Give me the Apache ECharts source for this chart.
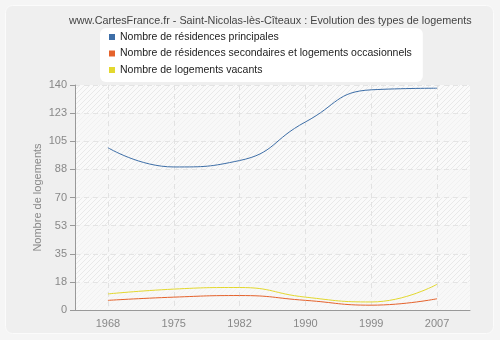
<!DOCTYPE html>
<html><head><meta charset="utf-8">
<script src="https://cdn.jsdelivr.net/npm/echarts@6/dist/echarts.min.js"></script>
<style>html,body{margin:0;padding:0;background:#f5f5f5}#c{width:500px;height:340px}</style>
</head><body><div id="c"></div>
<script>
const years = ['1968','1975','1982','1990','1999','2007'];
const principales = [101, 89, 93, 117, 137, 138];
const secondaires = [6, 8, 9, 6, 3, 7];
const vacants = [10, 13, 14, 8, 5, 16];
const seriesNames = ['Nombre de résidences principales','Nombre de résidences secondaires et logements occasionnels','Nombre de logements vacants'];
const colors = ['#3d6ea7','#e5622b','#e3d82e'];

function hatch(bg, fg){
  const c = document.createElement('canvas'); c.width = 5; c.height = 5;
  const g = c.getContext('2d');
  g.fillStyle = bg; g.fillRect(0,0,5,5);
  g.strokeStyle = fg; g.lineWidth = 1;
  g.beginPath(); g.moveTo(-1,6); g.lineTo(6,-1); g.stroke();
  g.beginPath(); g.moveTo(-1,1); g.lineTo(1,-1); g.stroke();
  g.beginPath(); g.moveTo(4,6); g.lineTo(6,4); g.stroke();
  return {image: c, repeat: 'repeat'};
}
const F = "'Liberation Sans', Arial, sans-serif";
const chart = echarts.init(document.getElementById('c'));
chart.setOption({
  animation: false,
  backgroundColor: '#f5f5f5',
  textStyle: {fontFamily: F},
  graphic: [{type:'rect', shape:{x:5.5,y:5.5,width:488,height:328,r:7}, style:{fill:'#efefef', stroke:'#fbfbfb', lineWidth:1}, z:-10}],
  title: {text: 'www.CartesFrance.fr - Saint-Nicolas-lès-Cîteaux : Evolution des types de logements', left: 64, top: 11,
    textStyle:{fontSize:10.8, fontWeight:'normal', color:'#444', fontFamily:F}},
  legend: {orient:'vertical', left:100, top:28, backgroundColor:'#fff', borderRadius:6,
    padding:[2,11,5,9], itemWidth:6, itemHeight:6, itemGap:2.5, icon:'rect',
    textStyle:{fontSize:10.5, color:'#222', lineHeight:14, fontFamily:F}, data: seriesNames},
  grid: {left:75, top:85, right:30, bottom:30, containLabel:false},
  xAxis: {type:'category', data: years, boundaryGap:true,
    axisLine:{lineStyle:{color:'#999'}},
    axisTick:{alignWithLabel:true, length:5, lineStyle:{color:'#999'}},
    axisLabel:{color:'#888', fontSize:11, margin:8, fontFamily:F},
    splitLine:{show:true, alignWithLabel:true, lineStyle:{color:'#e2e2e2', type:[5,4]}}},
  yAxis: {type:'value', min:0, max:140, interval:17.5,
    name:'Nombre de logements', nameLocation:'middle', nameGap:32, nameMoveOverlap:false,
    nameTextStyle:{color:'#888', fontSize:11, fontFamily:F},
    axisLine:{show:true, lineStyle:{color:'#999'}},
    axisTick:{show:true, length:5, lineStyle:{color:'#999'}},
    axisLabel:{color:'#888', fontSize:11, formatter: v => String(Math.round(v)), fontFamily:F},
    splitLine:{lineStyle:{color:'#e4e4e4', type:[5,4]}},
    splitArea:{show:true, areaStyle:{color:[hatch('#f8f8f8','#f1f1f1'), hatch('#fafafa','#e9e9e9')]}}},
  series: [
    {name: seriesNames[0], type:'line', data: principales, smooth:true, showSymbol:false, color: colors[0], lineStyle:{width:1}},
    {name: seriesNames[1], type:'line', data: secondaires, smooth:true, showSymbol:false, color: colors[1], lineStyle:{width:1}},
    {name: seriesNames[2], type:'line', data: vacants, smooth:true, showSymbol:false, color: colors[2], lineStyle:{width:1}}
  ]
});
</script></body></html>
